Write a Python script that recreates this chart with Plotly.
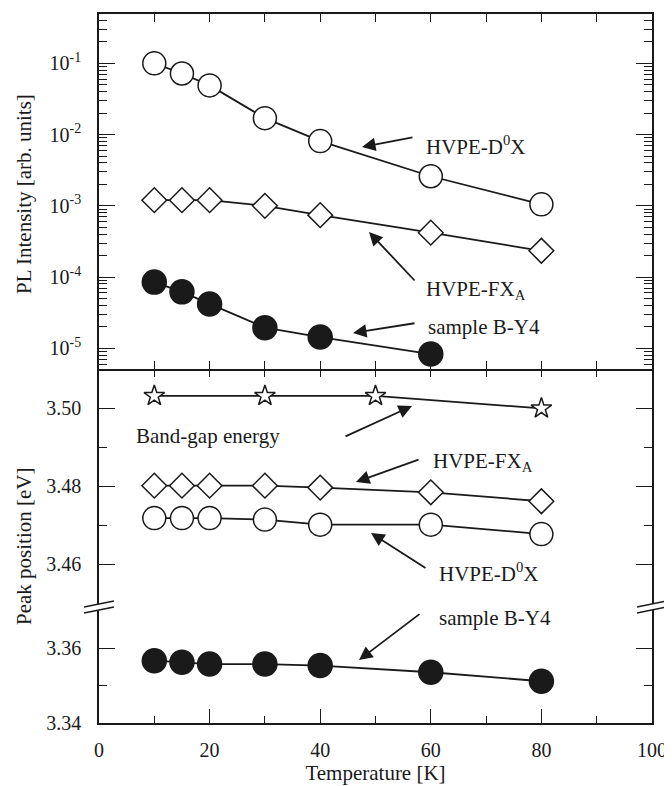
import plotly.graph_objects as go

# ---------------- data ----------------
temps = [10, 15, 20, 30, 40, 60, 80]
temps_by4_pl = [10, 15, 20, 30, 40, 60]
temps_bandgap = [10, 30, 50, 80]

pl_d0x = [0.10, 0.072, 0.049, 0.017, 0.0081, 0.0026, 0.00105]
pl_fxa = [0.0012, 0.0012, 0.0012, 0.0010, 0.00074, 0.00042, 0.000234]
pl_by4 = [8.5e-5, 6.2e-5, 4.2e-5, 1.95e-5, 1.44e-5, 8.3e-6]

e_bandgap = [3.5032, 3.5032, 3.5032, 3.5000]
e_fxa = [3.4802, 3.4802, 3.4802, 3.4802, 3.4797, 3.4785, 3.4762]
e_d0x = [3.4719, 3.4719, 3.4719, 3.4715, 3.4702, 3.4702, 3.4678]
e_by4 = [3.3567, 3.3563, 3.3558, 3.3558, 3.3554, 3.3536, 3.3512]

pl_tickvals = [1e-5, 1e-4, 1e-3, 1e-2, 1e-1]
pl_ticktext = ["10<sup>-5</sup>", "10<sup>-4</sup>", "10<sup>-3</sup>",
               "10<sup>-2</sup>", "10<sup>-1</sup>"]

# ---------------- geometry helpers ----------------
# page is 672x786; the html body has an 8px margin, so the figure is
# made 8px smaller and all margins are computed in page pixels minus 8.
OFF = 8
W, H = 672 - OFF, 786 - OFF
PLOT_L, PLOT_R, PLOT_T, PLOT_B = 99, 652, 14, 723   # page pixels
L, T = PLOT_L - OFF, PLOT_T - OFF
R, B = W + OFF - PLOT_R, H + OFF - PLOT_B
PW, PH = PLOT_R - PLOT_L, PLOT_B - PLOT_T


def px(x):
    return (x - PLOT_L) / PW


def py(y):
    return (PLOT_B - y) / PH


FONT = "Liberation Serif, Times New Roman, serif"
BLK = "#1a1a1a"
LW = 1.8

top_dom = [py(369), 1.0]
up_dom = [py(607), py(369)]
lo_dom = [0.0, py(607)]

fig = go.Figure()


def add(x, y, xa, ya, symbol, size, fill):
    fig.add_trace(go.Scatter(
        x=x, y=y, xaxis=xa, yaxis=ya, mode="lines+markers",
        line=dict(color=BLK, width=LW),
        marker=dict(symbol=symbol, size=size, color=fill,
                    line=dict(color=BLK, width=1.5)),
        showlegend=False, cliponaxis=False))


# top panel
add(temps, pl_d0x, "x", "y", "circle", 23, "white")
add(temps, pl_fxa, "x", "y", "diamond", 19, "white")
add(temps_by4_pl, pl_by4, "x", "y", "circle", 24, BLK)
# bottom panel (upper segment)
add(temps_bandgap, e_bandgap, "x3", "y3", "star", 15.5, "white")
add(temps, e_fxa, "x3", "y3", "diamond", 19, "white")
add(temps, e_d0x, "x3", "y3", "circle", 23, "white")
# bottom panel (lower segment)
add(temps, e_by4, "x2", "y2", "circle", 24, BLK)

tickfont = dict(family=FONT, size=20, color=BLK)
common_ax = dict(showgrid=False, zeroline=False, automargin=False,
                 linecolor=BLK, linewidth=1.5, tickcolor=BLK, tickwidth=1.3,
                 ticks="inside", tickfont=tickfont)

fig.update_layout(
    width=W, height=H,
    margin=dict(l=L, r=R, t=T, b=B),
    paper_bgcolor="white", plot_bgcolor="white",
    font=dict(family=FONT, size=20, color=BLK),
    xaxis=dict(domain=[0, 1], anchor="y", range=[0, 100], mirror="allticks",
               showline=True,
               tickmode="linear", tick0=0, dtick=10, ticklen=8,
               showticklabels=False, **common_ax),
    xaxis3=dict(domain=[0, 1], anchor="y3", side="top", range=[0, 100],
                showline=False,
                tickmode="linear", tick0=0, dtick=10, ticklen=8,
                showticklabels=False, **common_ax),
    xaxis2=dict(domain=[0, 1], anchor="y2", range=[0, 100], showline=True,
                tickmode="linear", tick0=0, dtick=20, ticklen=14,
                minor=dict(dtick=10, ticklen=7, ticks="inside",
                           tickcolor=BLK, tickwidth=1.3),
                ticklabelstandoff=8,
                title=dict(text="Temperature [K]",
                           font=dict(family=FONT, size=21, color=BLK),
                           standoff=4),
                **common_ax),
    yaxis=dict(domain=top_dom, anchor="x", type="log", range=[-5.29, -0.308],
               showline=True,
               tickvals=pl_tickvals, ticktext=pl_ticktext, ticklen=16,
               minor=dict(tickvals=[m * 10.0 ** e for e in range(-6, 0)
                                    for m in range(2, 10)],
                          ticklen=8, ticks="inside", tickcolor=BLK,
                          tickwidth=1.2),
               mirror="allticks", ticklabelstandoff=12, **common_ax),
    yaxis3=dict(domain=up_dom, anchor="x3", range=[3.4491, 3.5101],
                showline=True,
                tickvals=[3.46, 3.48, 3.50], ticktext=["3.46", "3.48", "3.50"],
                ticklen=16,
                minor=dict(tickvals=[3.47, 3.49], ticklen=8, ticks="inside",
                           tickcolor=BLK, tickwidth=1.3),
                mirror="allticks", ticklabelstandoff=12, **common_ax),
    yaxis2=dict(domain=lo_dom, anchor="x2", range=[3.34, 3.3711],
                showline=True,
                tickvals=[3.34, 3.36], ticktext=["3.34", "3.36"],
                ticklen=16,
                minor=dict(tickvals=[3.35], ticklen=8, ticks="inside",
                           tickcolor=BLK, tickwidth=1.3),
                mirror="allticks", ticklabelstandoff=12, **common_ax),
)

# axis titles (vertical)
for text, cy in (("PL Intensity [arb. units]", 194), ("Peak position [eV]", 547)):
    fig.add_annotation(text=text, xref="paper", yref="paper",
                       x=px(24), y=py(cy), xanchor="center", yanchor="middle",
                       textangle=-90, showarrow=False,
                       font=dict(family=FONT, size=21, color=BLK))

# labels + arrows: (text, text_left, text_cy, tail, head)
ann_font = dict(family=FONT, size=21, color=BLK)
labels = [
    ("HVPE-D<sup>0</sup>X", 424, 145, (414, 137), (362, 147)),
    ("HVPE-FX<sub>A</sub>", 424, 290, (416, 282), (369, 232)),
    ("sample B-Y4", 426, 327, (416, 323), (353, 333)),
    ("Band-gap energy", 134, 436, (344, 437), (412, 406)),
    ("HVPE-FX<sub>A</sub>", 431, 462, (420, 459), (356, 482)),
    ("HVPE-D<sup>0</sup>X", 437, 572, (427, 569), (371, 533)),
    ("sample B-Y4", 437, 618, (421, 613), (359, 660)),
]
for text, tx, ty, tail, head in labels:
    fig.add_annotation(text=text, xref="paper", yref="paper", x=px(tx),
                       y=py(ty), xanchor="left", yanchor="middle",
                       showarrow=False, font=ann_font)
    fig.add_annotation(text="", xref="paper", yref="paper",
                       x=px(head[0]), y=py(head[1]),
                       ax=tail[0] - head[0], ay=tail[1] - head[1],
                       showarrow=True, arrowhead=2, arrowsize=1.5,
                       arrowwidth=1.8, arrowcolor=BLK)

# axis-break marks
for x0 in (84, 637):
    fig.add_shape(type="path", xref="paper", yref="paper",
                  path=f"M {px(x0)},{py(607)} L {px(x0 + 30)},{py(601)} "
                       f"L {px(x0 + 30)},{py(607)} L {px(x0)},{py(613)} Z",
                  fillcolor="white", line=dict(width=0), layer="above")
    fig.add_shape(type="line", xref="paper", yref="paper",
                  x0=px(x0), y0=py(607), x1=px(x0 + 30), y1=py(601),
                  line=dict(color=BLK, width=1.5), layer="above")
    fig.add_shape(type="line", xref="paper", yref="paper",
                  x0=px(x0), y0=py(613), x1=px(x0 + 30), y1=py(607),
                  line=dict(color=BLK, width=1.5), layer="above")

fig.write_html("out.html")
